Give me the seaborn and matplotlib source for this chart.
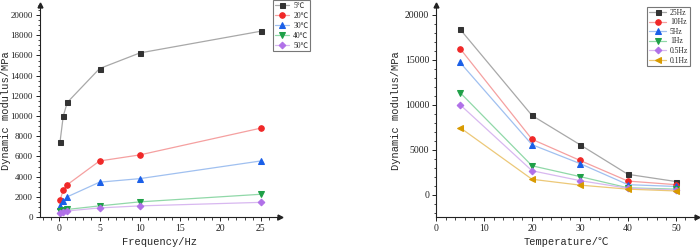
import numpy as np
import pandas as pd
import matplotlib
matplotlib.use("Agg")
import matplotlib.pyplot as plt
import seaborn as sns

# ---- data ----
freqs = [0.1, 0.5, 1, 5, 10, 25]
temps = [5, 20, 30, 40, 50]
temp_labels = ["5℃", "20℃", "30℃", "40℃", "50℃"]
mod_5 = [7450, 10000, 11350, 14700, 16250, 18400]
mod_20 = [1700, 2650, 3200, 5550, 6150, 8800]
mod_30 = [1050, 1550, 2000, 3450, 3800, 5550]
mod_40 = [600, 700, 750, 1100, 1500, 2250]
mod_50 = [400, 500, 600, 900, 1100, 1450]
freq_labels = ["25Hz", "10Hz", "5Hz", "1Hz", "0.5Hz", "0.1Hz"]
f_25 = [18400, 8800, 5550, 2250, 1450]
f_10 = [16250, 6150, 3800, 1500, 1100]
f_5 = [14700, 5550, 3450, 1100, 900]
f_1 = [11350, 3200, 2000, 750, 600]
f_05 = [10000, 2650, 1550, 700, 500]
f_01 = [7450, 1700, 1050, 600, 400]

sns.set_style("ticks")
plt.rcParams['font.family'] = ['Liberation Serif', 'Noto Sans CJK SC', 'DejaVu Sans']

dark = ["#333333", "#f02828", "#1a5fe8", "#1fa048", "#b070e8", "#d89a00"]
light = ["#a8a8a8", "#f5a0a0", "#a0c0f0", "#90d8a8", "#d8b8f0", "#ecc878"]
markers = ["s", "o", "^", "v", "D", "<"]
msizes = [3.6, 4.0, 4.0, 4.0, 3.4, 4.0]

fig = plt.figure(figsize=(7, 2.5), dpi=100)
ax1 = fig.add_axes([0.057, 0.132, 0.343, 0.848])
ax2 = fig.add_axes([0.623, 0.132, 0.372, 0.848])

label_font = dict(family=['Liberation Mono', 'Noto Sans CJK SC', 'DejaVu Sans'], fontsize=7.5)

# left panel
left_series = [mod_5, mod_20, mod_30, mod_40, mod_50]
for i, (vals, lab) in enumerate(zip(left_series, temp_labels)):
    df = pd.DataFrame({"x": freqs, "y": vals})
    sns.lineplot(data=df, x="x", y="y", ax=ax1, color=light[i], lw=0.9,
                 marker=markers[i], markersize=msizes[i],
                 markerfacecolor=dark[i], markeredgecolor=dark[i], label=lab)
ax1.set_xlim(-2.4, 27.4)
ax1.set_ylim(0, 21000)
ax1.set_xticks([0, 5, 10, 15, 20, 25])
ax1.set_yticks(np.arange(0, 20001, 2000))
ax1.set_xlabel("Frequency/Hz", labelpad=3, **label_font)
ax1.set_ylabel("Dynamic modulus/MPa", **label_font)
ax1.yaxis.set_label_coords(-0.122, 0.5)
leg1 = ax1.legend(loc="upper left", bbox_to_anchor=(0.39, 1.0), bbox_transform=fig.transFigure,
                  fontsize=5.5, frameon=True, fancybox=False, edgecolor="#555555",
                  borderpad=0.25, labelspacing=0.25, handlelength=1.9, handletextpad=0.5,
                  borderaxespad=0)
leg1.get_frame().set_linewidth(0.8)

# right panel
right_series = [f_25, f_10, f_5, f_1, f_05, f_01]
for i, (vals, lab) in enumerate(zip(right_series, freq_labels)):
    df = pd.DataFrame({"x": temps, "y": vals})
    sns.lineplot(data=df, x="x", y="y", ax=ax2, color=light[i], lw=0.9,
                 marker=markers[i], markersize=msizes[i],
                 markerfacecolor=dark[i], markeredgecolor=dark[i], label=lab)
ax2.set_xlim(0, 54.3)
ax2.set_ylim(-2500, 21100)
ax2.set_xticks([0, 10, 20, 30, 40, 50])
ax2.set_yticks([0, 5000, 10000, 15000, 20000])
ax2.set_xlabel("Temperature/℃", labelpad=3, **label_font)
ax2.set_ylabel("Dynamic modulus/MPa", labelpad=3, **label_font)
leg2 = ax2.legend(loc="upper right", bbox_to_anchor=(0.986, 0.972), bbox_transform=fig.transFigure,
                  fontsize=5.5, frameon=True, fancybox=False, edgecolor="#555555",
                  borderpad=0.25, labelspacing=0.2, handlelength=2.2, handletextpad=0.5,
                  borderaxespad=0)
leg2.get_frame().set_linewidth(0.8)

for ax in (ax1, ax2):
    for s in ("top", "right"):
        ax.spines[s].set_visible(False)
    for s in ("left", "bottom"):
        ax.spines[s].set_linewidth(0.8)
        ax.spines[s].set_color("#222222")
    ax.minorticks_on()
    ax.tick_params(which="major", direction="out", length=3, width=0.7, labelsize=7,
                   pad=2, colors="#222222")
    ax.tick_params(which="minor", direction="out", length=1.8, width=0.6)
    ax.plot(1, 0, marker=">", transform=ax.transAxes, clip_on=False, color="#222222", markersize=3.5)
    ax.plot(0, 1, marker="^", transform=ax.transAxes, clip_on=False, color="#222222", markersize=3.5)
ax1.tick_params(axis="y", which="major", labelsize=6.5)

fig.savefig("out.png", dpi=100)
